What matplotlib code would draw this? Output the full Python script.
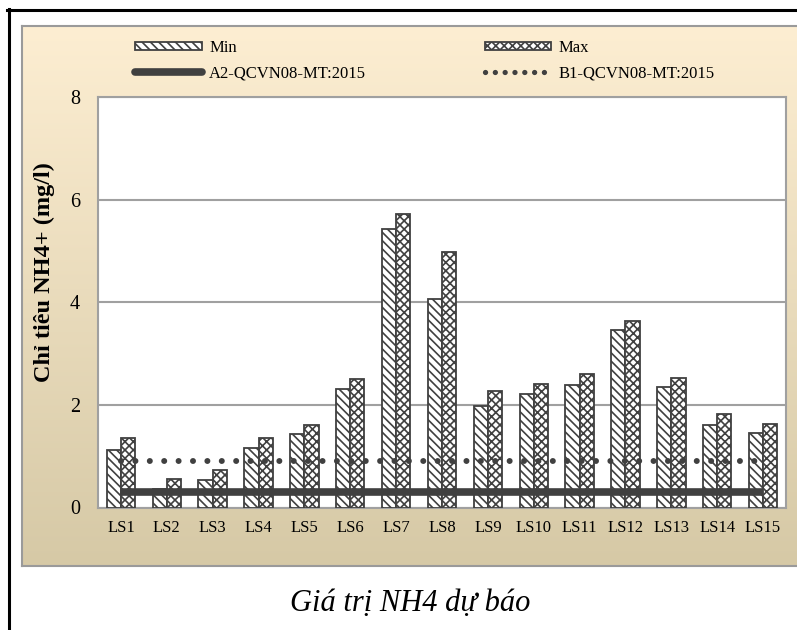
import matplotlib
matplotlib.use('Agg')

import matplotlib.pyplot as plt
from matplotlib.patches import Patch
from matplotlib.lines import Line2D
import numpy as np

# -------- data ----------------------------
categories = ['LS1', 'LS2', 'LS3', 'LS4', 'LS5', 'LS6', 'LS7', 'LS8',
              'LS9', 'LS10', 'LS11', 'LS12', 'LS13', 'LS14', 'LS15']
min_vals = [1.13, 0.36, 0.54, 1.16, 1.44, 2.30, 5.42, 4.06,
            1.98, 2.22, 2.38, 3.45, 2.35, 1.60, 1.46]
max_vals = [1.36, 0.56, 0.74, 1.36, 1.60, 2.50, 5.72, 4.98,
            2.27, 2.41, 2.61, 3.63, 2.53, 1.83, 1.63]
a2_limit = [0.3] * len(categories)
b1_limit = [0.9] * len(categories)
yticks = [0, 2, 4, 6, 8]

W, H = 797, 630
plt.rcParams['font.family'] = ['Liberation Serif', 'DejaVu Serif']
plt.rcParams['hatch.linewidth'] = 1.2

dark = '#404040'
grid_c = '#a0a0a0'

fig = plt.figure(figsize=(W / 100, H / 100), dpi=100)

# --- beige chart area with a vertical gradient ---
bg = fig.add_axes([22 / W, 1 - 566 / H, (W - 22 + 10) / W, (566 - 26) / H], zorder=0)
top_c = np.array([253, 238, 210]) / 255
bot_c = np.array([214, 201, 166]) / 255
t = np.linspace(0, 1, 256)[:, None]
grad = (top_c * (1 - t) + bot_c * t)[:, None, :]
grad = np.repeat(grad, 2, axis=1)
bg.imshow(grad, aspect='auto', extent=[0, 1, 0, 1])
bg.set_xlim(0, 1)
bg.set_ylim(0, 1)
bg.set_xticks([])
bg.set_yticks([])
for s in bg.spines.values():
    s.set_color('#9a9a9a')
    s.set_linewidth(1.5)

# --- plot area ---
ax = fig.add_axes([98 / W, 1 - 507.5 / H, (786 - 98) / W, (507.5 - 97) / H], zorder=1)
ax.set_facecolor('white')
x = np.arange(len(categories))
bw = 0.31

ax.bar(x - bw / 2, min_vals, bw, color='white', edgecolor=dark, linewidth=1.3,
       hatch='\\\\\\\\', zorder=3)
ax.bar(x + bw / 2, max_vals, bw, color='white', edgecolor=dark, linewidth=1.3,
       hatch='xxxx', zorder=3)
ax.plot(x, a2_limit, color=dark, linewidth=5.5, solid_capstyle='butt', zorder=4)
ax.plot(x, b1_limit, color=dark, linewidth=4.3, linestyle=(0, (0.01, 2.4)),
        dash_capstyle='round', zorder=4)

ax.set_xlim(-0.5, len(categories) - 0.5)
ax.set_ylim(0, 8)
ax.set_yticks(yticks)
ax.set_yticklabels([str(v) for v in yticks], fontsize=14.5)
ax.set_xticks(x)
ax.set_xticklabels(categories, fontsize=12)
ax.tick_params(axis='y', length=0, pad=13)
ax.tick_params(axis='x', length=0, pad=9)
ax.yaxis.grid(True, color=grid_c, linewidth=1.5, zorder=0)
ax.set_axisbelow(True)
for s in ax.spines.values():
    s.set_color(grid_c)
    s.set_linewidth(1.5)

ax.set_ylabel('Chỉ tiêu NH4+ (mg/l)', fontsize=17.5, fontweight='bold')
ax.yaxis.set_label_coords(-0.063, 0.574)

# --- legend (two columns) ---
handles = [
    Patch(facecolor='white', edgecolor=dark, hatch='\\\\\\\\', linewidth=1.3),
    Line2D([0], [0], color=dark, linewidth=5.5, solid_capstyle='round'),
    Patch(facecolor='white', edgecolor=dark, hatch='xxxx', linewidth=1.3),
    Line2D([0], [0], color=dark, linewidth=3.8, linestyle=(0, (0.01, 1.85)),
           dash_capstyle='round'),
]
labels = ['Min', 'A2-QCVN08-MT:2015', 'Max', 'B1-QCVN08-MT:2015']
fig.legend(handles, labels, ncol=2, loc='upper left',
           bbox_to_anchor=(135 / W, 1 - 40 / H), frameon=False, fontsize=12,
           handlelength=4.0, handleheight=0.35, handletextpad=0.45,
           columnspacing=7.1, labelspacing=0.55, borderpad=0, borderaxespad=0)

# --- caption and page frame ---
fig.text(410 / W, 1 - 603 / H, 'Giá trị NH4 dự báo', fontsize=22, style='italic',
         ha='center', va='center')
fig.add_artist(Line2D([8.5 / W, 8.5 / W], [0, 1 - 9 / H], color='black',
                      linewidth=2.2, transform=fig.transFigure))
fig.add_artist(Line2D([7.5 / W, 1], [1 - 10 / H, 1 - 10 / H], color='black',
                      linewidth=2.2, transform=fig.transFigure))

fig.savefig('out.png', dpi=100)
